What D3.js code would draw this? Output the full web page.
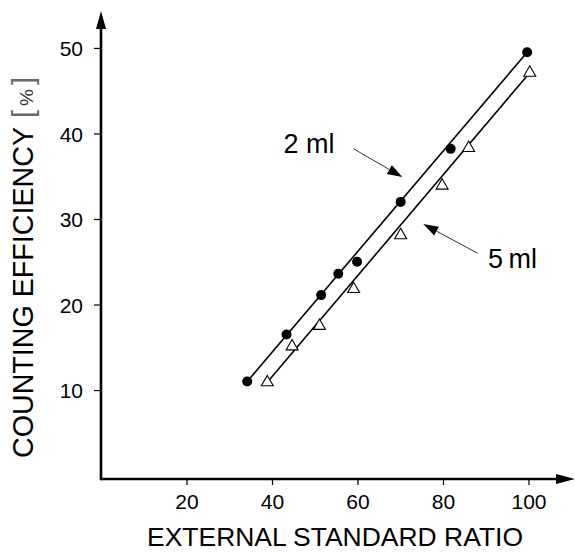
<!DOCTYPE html>
<html><head><meta charset="utf-8">
<script src="https://cdn.jsdelivr.net/npm/d3@7"></script>
<style>html,body{margin:0;padding:0;background:#fff;} svg{display:block;}</style>
</head><body>
<script>
// ---- data ----
const xTicks = [20, 40, 60, 80, 100];
const yTicks = [10, 20, 30, 40, 50];
const ratio2ml = [34.2, 43.4, 51.5, 55.5, 59.9, 70.1, 81.8, 99.7];
const eff2ml   = [11.0, 16.5, 21.1, 23.6, 25.0, 32.0, 38.2, 49.5];
const ratio5ml = [38.9, 44.7, 51.1, 59.1, 70.1, 79.8, 86.0, 100.3];
const eff5ml   = [10.9, 15.1, 17.5, 21.8, 28.1, 33.9, 38.3, 47.1];
const fitX2ml = [34.2, 99.7], fitY2ml = [11.0, 49.5];
const fitX5ml = [38.9, 100.8], fitY5ml = [10.9, 47.4];
const xTitle = "EXTERNAL STANDARD RATIO";
const yTitle = "COUNTING EFFICIENCY";

const W = 575, H = 553;
const svg = d3.select("body").append("svg").attr("width", W).attr("height", H);
const font = "'Liberation Sans', Arial, Helvetica, sans-serif";

const x = d3.scaleLinear().domain([0, 111]).range([101, 575.5]);
const y = d3.scaleLinear().domain([-0.4, 54.2]).range([479, 12]);

// axes
const xAxis = d3.axisBottom(x).tickValues(xTicks).tickSize(6).tickPadding(9);
const gx = svg.append("g").attr("transform", `translate(0,${y(-0.4)})`).call(xAxis);
gx.select(".domain").remove();
gx.selectAll(".tick line").attr("stroke", "#000").attr("stroke-width", 1.2);
gx.selectAll(".tick text").attr("font-family", font).attr("font-size", 21).attr("fill", "#000");

const yAxis = d3.axisLeft(y).tickValues(yTicks).tickSize(7).tickPadding(11);
const gy = svg.append("g").attr("transform", `translate(${x(0)},0)`).call(yAxis);
gy.select(".domain").remove();
gy.selectAll(".tick line").attr("stroke", "#000").attr("stroke-width", 1.2);
gy.selectAll(".tick text").attr("font-family", font).attr("font-size", 21).attr("fill", "#000").attr("dy", "0.36em");

// axis lines with arrows
const x0 = x(0), y0 = y(-0.4);
svg.append("line").attr("x1", x0).attr("y1", y0).attr("x2", 560).attr("y2", y0)
  .attr("stroke", "#000").attr("stroke-width", 2.6);
svg.append("path").attr("d", `M575,${y0} L556,${y0-5} L556,${y0+5} Z`).attr("fill", "#000");
svg.append("line").attr("x1", x0).attr("y1", y0 + 1.3).attr("x2", x0).attr("y2", 26)
  .attr("stroke", "#000").attr("stroke-width", 2.6);
svg.append("path").attr("d", `M${x0},11 L${x0-5},29 L${x0+5},29 Z`).attr("fill", "#000");

// fit lines
const line = d3.line().x(d => x(d[0])).y(d => y(d[1]));
svg.append("path").datum(fitX2ml.map((v, i) => [v, fitY2ml[i]])).attr("d", line)
  .attr("stroke", "#000").attr("stroke-width", 1.6).attr("fill", "none");
svg.append("path").datum(fitX5ml.map((v, i) => [v, fitY5ml[i]])).attr("d", line)
  .attr("stroke", "#000").attr("stroke-width", 1.6).attr("fill", "none");

// markers
svg.append("g").selectAll("circle").data(ratio2ml.map((v, i) => [v, eff2ml[i]])).join("circle")
  .attr("cx", d => x(d[0])).attr("cy", d => y(d[1])).attr("r", 5).attr("fill", "#000");
const tri = d3.symbol().type(d3.symbolTriangle).size(62);
svg.append("g").selectAll("path").data(ratio5ml.map((v, i) => [v, eff5ml[i]])).join("path")
  .attr("d", tri).attr("transform", d => `translate(${x(d[0])},${y(d[1])})`)
  .attr("fill", "#fff").attr("stroke", "#000").attr("stroke-width", 1.1);

// annotations
function arrow(xa, ya, xb, yb) {
  const ang = Math.atan2(yb - ya, xb - xa);
  const L = 15, w = 5;
  const bx = xb - L * Math.cos(ang), by = yb - L * Math.sin(ang);
  svg.append("line").attr("x1", xa).attr("y1", ya).attr("x2", bx).attr("y2", by)
    .attr("stroke", "#333").attr("stroke-width", 1);
  const px = -Math.sin(ang) * w, py = Math.cos(ang) * w;
  svg.append("path").attr("d", `M${xb},${yb} L${bx+px},${by+py} L${bx-px},${by-py} Z`).attr("fill", "#000");
}
arrow(x(59.1), y(38.2), x(70.5), y(34.9));
arrow(x(88.1), y(26.0), x(75.4), y(29.4));
svg.append("text").attr("x", x(42.7)).attr("y", y(37.7)).attr("font-family", font)
  .attr("font-size", 27).text("2 ml");
svg.append("text").attr("x", 488).attr("y", 268).attr("font-family", font)
  .attr("font-size", 27).text("5\u2009ml");

// titles
svg.append("text").attr("x", 335).attr("y", 546).attr("text-anchor", "middle")
  .attr("font-family", font).attr("font-size", 26)
  .attr("textLength", 376).attr("lengthAdjust", "spacingAndGlyphs").text(xTitle);

const yt = svg.append("text").attr("transform", "translate(33,458) rotate(-90)")
  .attr("font-family", font).attr("font-size", 29);
yt.append("tspan").attr("textLength", 331).attr("lengthAdjust", "spacingAndGlyphs").text(yTitle);
yt.append("tspan").attr("dx", 9).attr("fill", "#666").attr("font-weight", 300).text("[");
yt.append("tspan").attr("dx", 4).attr("font-size", 19).attr("fill", "#333").text("%");
yt.append("tspan").attr("dx", 4).attr("fill", "#666").attr("font-weight", 300).text("]");
</script>
</body></html>
